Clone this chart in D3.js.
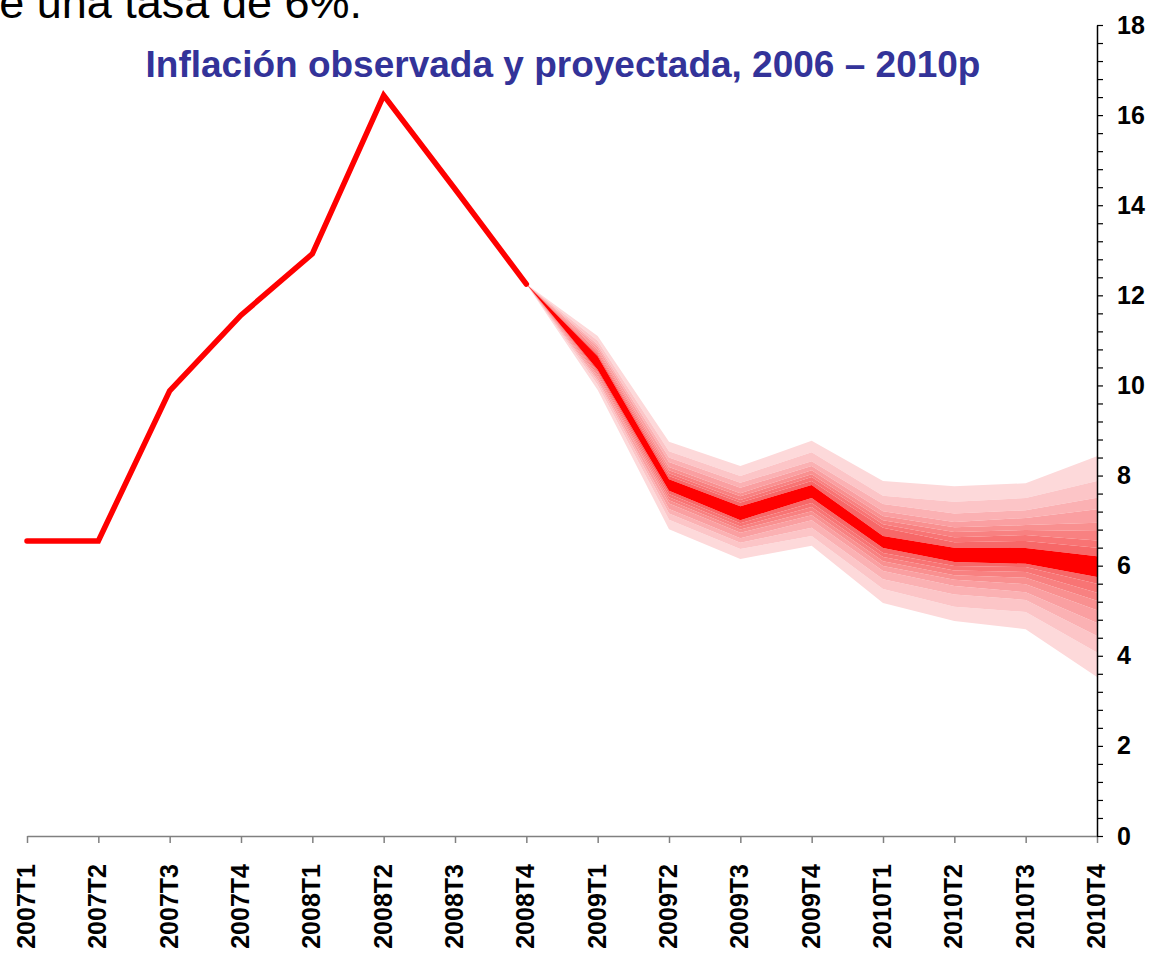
<!DOCTYPE html>
<html>
<head>
<meta charset="utf-8">
<script src="https://cdn.jsdelivr.net/npm/d3@7"></script>
<style>
  html, body { margin: 0; padding: 0; background: #ffffff; }
  svg { display: block; font-family: "Liberation Sans", Arial, sans-serif; }
</style>
</head>
<body>
<svg id="chart" width="1150" height="954"></svg>
<script>
// ---------------- DATA ----------------
const categories = ["2007T1","2007T2","2007T3","2007T4","2008T1","2008T2","2008T3","2008T4",
                    "2009T1","2009T2","2009T3","2009T4","2010T1","2010T2","2010T3","2010T4"];

// observed inflation (2007T1 – 2008T4)
const observedPeriods = ["2007T1","2007T2","2007T3","2007T4","2008T1","2008T2","2008T3","2008T4"];
const observedValues  = [6.55, 6.55, 9.88, 11.56, 12.92, 16.44, 14.36, 12.25];

// fan chart (projection) periods
const fanPeriods = ["2008T4","2009T1","2009T2","2009T3","2009T4","2010T1","2010T2","2010T3","2010T4"];
// central (darkest) band
const centralTop    = [12.25, 10.65, 7.92, 7.32, 7.79, 6.66, 6.40, 6.39, 6.21];
const centralBottom = [12.25, 10.35, 7.66, 7.01, 7.50, 6.39, 6.08, 6.04, 5.75];
// upper band boundaries per period (inner -> outer)
const upperBounds = [
  [12.25, 12.25, 12.25, 12.25, 12.25, 12.25, 12.25, 12.25],
  [10.69, 10.72, 10.76, 10.80, 10.86, 10.91, 10.99, 11.10],
  [7.99, 8.05, 8.12, 8.19, 8.30, 8.40, 8.54, 8.75],
  [7.40, 7.46, 7.54, 7.61, 7.73, 7.84, 7.99, 8.21],
  [7.88, 7.97, 8.03, 8.12, 8.21, 8.32, 8.52, 8.77],
  [6.84, 6.92, 7.01, 7.10, 7.21, 7.37, 7.55, 7.88],
  [6.52, 6.63, 6.75, 6.85, 6.97, 7.16, 7.42, 7.76],
  [6.55, 6.68, 6.79, 6.90, 7.06, 7.23, 7.50, 7.83],
  [6.40, 6.56, 6.77, 6.95, 7.25, 7.51, 7.88, 8.43]
];
// lower band boundaries per period (inner -> outer)
const lowerBounds = [
  [12.25, 12.25, 12.25, 12.25, 12.25, 12.25, 12.25, 12.25],
  [10.31, 10.28, 10.24, 10.20, 10.14, 10.09, 10.01, 9.90],
  [7.59, 7.52, 7.45, 7.38, 7.26, 7.16, 7.02, 6.81],
  [6.94, 6.87, 6.80, 6.73, 6.61, 6.51, 6.37, 6.15],
  [7.39, 7.30, 7.21, 7.12, 7.01, 6.84, 6.66, 6.44],
  [6.28, 6.19, 6.10, 5.99, 5.88, 5.70, 5.48, 5.17],
  [5.99, 5.89, 5.79, 5.69, 5.55, 5.36, 5.09, 4.77],
  [5.97, 5.86, 5.73, 5.59, 5.41, 5.24, 4.97, 4.59],
  [5.60, 5.40, 5.22, 5.01, 4.73, 4.44, 4.07, 3.53]
];
// band colours (inner -> outer)
const bandColors = ["#f76868","#f87474","#f88181","#f99090","#fa9fa1","#fbb1b3","#fcc5c7","#fdd9da"];
const centralColor = "#ff0000";

const yMajorTicks = [0, 2, 4, 6, 8, 10, 12, 14, 16, 18];
const titleText = "Inflación observada y proyectada, 2006 – 2010p";
const topText = "e una tasa de 6%.";

// ---------------- CHART ----------------
const svg = d3.select("#chart");

const x = d3.scalePoint().domain(categories).range([27, 1097]);
const y = d3.scaleLinear().domain([0, 18]).range([836, 25]);

// top (cut) sentence, as in the reference
svg.append("text")
  .attr("x", 362).attr("y", 18)
  .attr("text-anchor", "end")
  .attr("font-size", 45)
  .attr("fill", "#000")
  .text(topText);

// title
svg.append("text")
  .attr("x", 563).attr("y", 77)
  .attr("text-anchor", "middle")
  .attr("font-size", 37)
  .attr("font-weight", "bold")
  .attr("fill", "#333399")
  .text(titleText);

// fan bands
const gFan = svg.append("g");
const idx = d3.range(fanPeriods.length);
const area = (lowFn, highFn) => d3.area()
  .x(i => x(fanPeriods[i]))
  .y0(i => y(lowFn(i)))
  .y1(i => y(highFn(i)))(idx);

for (let b = bandColors.length - 1; b >= 0; b--) {
  gFan.append("path")
    .attr("d", area(i => (b === 0 ? centralTop[i] : upperBounds[i][b - 1]), i => upperBounds[i][b]))
    .attr("fill", bandColors[b]);
  gFan.append("path")
    .attr("d", area(i => lowerBounds[i][b], i => (b === 0 ? centralBottom[i] : lowerBounds[i][b - 1])))
    .attr("fill", bandColors[b]);
}
gFan.append("path")
  .attr("d", area(i => centralBottom[i], i => centralTop[i]))
  .attr("fill", centralColor);

// observed line
svg.append("path")
  .datum(observedValues)
  .attr("d", d3.line().x((d, i) => x(observedPeriods[i])).y(d => y(d)))
  .attr("fill", "none")
  .attr("stroke", "#ff0000")
  .attr("stroke-width", 5.5)
  .attr("stroke-linecap", "round")
  .attr("stroke-linejoin", "miter");

// x axis
const xAxis = svg.append("g")
  .attr("transform", `translate(0,${y(0)})`)
  .call(d3.axisBottom(x).tickSize(7).tickSizeOuter(0));
xAxis.select(".domain").attr("stroke", "#808080").attr("stroke-width", 1.5);
xAxis.selectAll(".tick line").attr("stroke", "#808080").attr("stroke-width", 1.5);
xAxis.selectAll(".tick text")
  .attr("font-family", "'Liberation Sans', Arial, sans-serif")
  .attr("font-size", 25)
  .attr("font-weight", "bold")
  .attr("fill", "#000")
  .attr("text-anchor", "end")
  .attr("transform", "rotate(-90)")
  .attr("x", -28)
  .attr("y", 0)
  .attr("dy", "0.3em");

// y axis (right)
const minorTicks = d3.range(0, 46).map(i => +(i * 0.4).toFixed(1));
const yAxis = svg.append("g")
  .attr("transform", `translate(${x("2010T4")},0)`)
  .call(d3.axisRight(y)
    .tickValues(minorTicks)
    .tickSize(6)
    .tickSizeOuter(0)
    .tickPadding(14)
    .tickFormat(d => yMajorTicks.includes(d) ? d : ""));
yAxis.select(".domain").attr("stroke", "#000").attr("stroke-width", 1.5);
yAxis.selectAll(".tick line").attr("stroke", "#000").attr("stroke-width", 1.2);
yAxis.selectAll(".tick text")
  .attr("font-family", "'Liberation Sans', Arial, sans-serif")
  .attr("font-size", 25)
  .attr("font-weight", "bold")
  .attr("fill", "#000");
</script>
</body>
</html>
